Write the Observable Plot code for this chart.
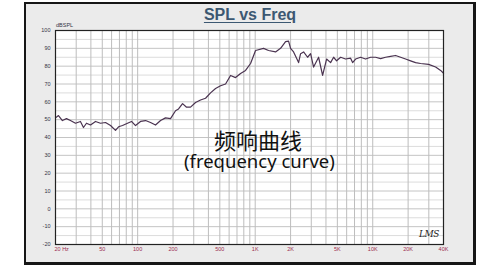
<!DOCTYPE html>
<html>
<head>
<meta charset="utf-8">
<script src="https://cdn.jsdelivr.net/npm/d3@7"></script>
<script src="https://cdn.jsdelivr.net/npm/@observablehq/plot@0.6"></script>
<style>
  html, body { margin: 0; padding: 0; background: #fff; }
  #wrap { position: relative; width: 500px; height: 268px; overflow: hidden; }
  #panel { position: absolute; left: 24px; top: 2px; width: 447px; height: 258px;
           background: #ebebeb; border: 2px solid #161616; border-bottom-width: 3px; border-right-width: 3px; }
  #chart { position: absolute; left: 0; top: 0; }
  .title { position: absolute; left: 0; width: 500px; top: 6px; text-align: center;
           font: bold 16px "Liberation Sans", Arial, sans-serif; color: #3c5872;
           text-decoration: underline; text-underline-offset: 2px; }
  .zh { position: absolute; left: 214px; top: 129px; font: 22px/21px "Noto Sans CJK SC", sans-serif; color: #111; }
  .en { position: absolute; left: 184px; top: 152px; font: 18.5px/17px "Noto Sans", "Open Sans", sans-serif; color: #111; white-space: nowrap; }
  .lms { position: absolute; left: 419px; top: 229px; font: italic 9px "DejaVu Serif", serif; color: #222; letter-spacing: -0.5px; }
  .unit { position: absolute; left: 56px; top: 22px; font: 5.5px "Liberation Sans", Arial, sans-serif; color: #334; }
</style>
</head>
<body>
<div id="wrap">
  <div id="panel"></div>
  <div id="chart"></div>
  <div class="title">SPL vs Freq</div>
  <div class="unit">dBSPL</div>
  <div class="zh">频响曲线</div>
  <div class="en">(frequency curve)</div>
  <div class="lms">LMS</div>
</div>
<script>
// Frequency (Hz) and SPL (dB)
const freq = [20, 21.2, 22.9, 24.8, 26.8, 29.6, 32.6, 34.6, 36.7, 39.7, 43.8, 48.3, 53.3, 58.8, 64.8, 68.8, 74.3, 82, 88.7, 95.9,
  105.8, 116.7, 128.7, 141.9, 156.6, 172.6, 190.4, 210, 222.8, 241, 260.6, 281.8, 310.8, 342.8, 378.1, 417, 460, 507.4, 559.6,
  617.3, 680.8, 750.8, 828, 913.3, 1007, 1178, 1300, 1490, 1644, 1813, 1923, 2000, 2121, 2340, 2433, 2581, 2791, 2960, 3140,
  3463, 3745, 4050, 4380, 4646, 4927, 5330, 5876, 6480, 6741, 7148, 7883, 8693, 9588, 10574, 11662, 12862, 14186, 15646,
  17257, 19033, 20992, 23151, 25534, 29890, 34281, 37809, 40000];
const spl = [51, 52.3, 49.5, 50.6, 49.5, 48, 49, 45.6, 48, 47, 49, 48, 48.4, 46.7, 44, 46, 46.7, 48, 49, 46.7,
  49, 49.5, 48.4, 47, 49.5, 51, 50.6, 55, 56, 59, 57, 57, 59.6, 61, 62, 65, 67.5, 69, 70,
  74.8, 73.6, 75.9, 77.6, 81.5, 88.8, 90, 88.8, 88, 90, 93.8, 94, 90, 88, 82, 87, 88, 85, 87, 79.5,
  85, 74.8, 84, 82, 85, 83, 85, 84, 84.5, 82, 84, 85, 84, 85, 85, 84.2, 85, 85.5, 86,
  85, 84, 83, 82, 81.5, 81, 79.5, 77.6, 76];

const xTickValues = [20, 50, 100, 200, 500, 1000, 2000, 5000, 10000, 20000, 40000];
const xTickLabels = ["20 Hz", "50", "100", "200", "500", "1K", "2K", "5K", "10K", "20K", "40K"];
const yTickValues = [100, 90, 80, 70, 60, 50, 40, 30, 20, 10, 0, -10, -20];
const yMinorValues = [95, 85, 75, 65, 55, 45, 35, 25, 15, 5, -5, -15];

const data = freq.map((f, i) => ({f, db: spl[i]}));
const xLabels = xTickValues.map((v, i) => ({v, label: xTickLabels[i]}));
const vGrid = [];
for (const dec of [10, 100, 1000, 10000]) for (let m = 1; m <= 9; m++) {
  const v = dec * m; if (v >= 20 && v <= 40000) vGrid.push(v);
}

const chart = Plot.plot({
  width: 500, height: 268,
  marginLeft: 55, marginRight: 57, marginTop: 30, marginBottom: 24,
  style: {background: "transparent", fontFamily: "Liberation Sans, Arial, sans-serif"},
  x: {type: "log", domain: [20, 40000], axis: null},
  y: {domain: [-20, 100], axis: null},
  marks: [
    Plot.frame({fill: "white"}),
    Plot.ruleY(yMinorValues, {stroke: "#dcdcdc", strokeWidth: 1}),
    Plot.ruleY(yTickValues, {stroke: "#c4c4c4", strokeWidth: 1}),
    Plot.ruleX(vGrid, {stroke: "#bdbdbd", strokeWidth: 1}),
    Plot.line(data, {x: "f", y: "db", stroke: "#4a3350", strokeWidth: 1.2}),
    Plot.frame({stroke: "#222", strokeWidth: 1.2}),
    Plot.text(yTickValues, {y: d => d, frameAnchor: "left", dx: -5, textAnchor: "end", text: d => String(d),
      fontSize: 5.5, fill: "#334"}),
    Plot.text(xLabels.slice(1), {x: "v", frameAnchor: "bottom", dy: 6, text: "label", fontSize: 5.5, fill: "#9b2d4f"}),
    Plot.text(xLabels.slice(0, 1), {x: "v", frameAnchor: "bottom", dy: 6, dx: -1, textAnchor: "start", text: "label",
      fontSize: 5.5, fill: "#9b2d4f"})
  ]
});
document.getElementById("chart").appendChild(chart);
</script>
</body>
</html>
